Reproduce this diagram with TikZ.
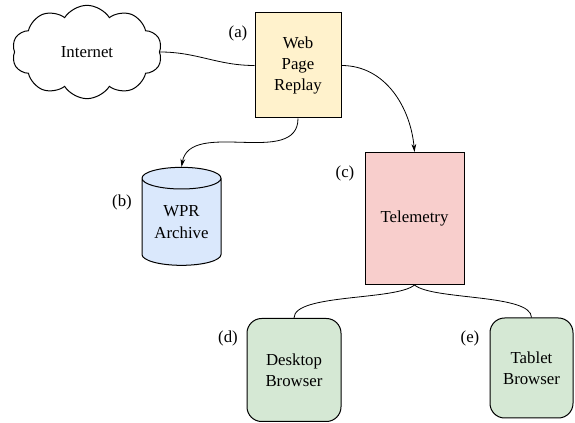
\documentclass[tikz,border=0pt]{standalone}
\usepackage{fontspec}
\setmainfont{Liberation Serif}
\usepackage{tikz}
\usetikzlibrary{arrows.meta, shapes.geometric, shapes.symbols}
\definecolor{wprfill}{HTML}{FFF2CC}
\definecolor{arcfill}{HTML}{DAE8FC}
\definecolor{telfill}{HTML}{F8CECC}
\definecolor{brwfill}{HTML}{D5E8D4}
\tikzset{ box/.style = {draw, line width=0.75pt, align=center, inner sep=0pt},
  browser/.style = {box, fill=brwfill, rounded corners=11pt},
  link/.style = {line width=0.6pt} }

\begin{document}
\begin{tikzpicture}[x=0.75pt, y=-0.75pt, font=\rmfamily\fontsize{12.6}{16}\selectfont, >={Stealth[length=6pt, width=3.6pt]}]
  \useasboundingbox (0,0) rectangle (575,423);
  \path (87,52) node[box, cloud, cloud puffs=10, cloud puff arc=115, aspect=1.6, minimum width=112.5pt, minimum height=70pt] (net) {Internet}
      (298,65.5) node[box, fill=wprfill, minimum width=64.5pt, minimum height=78.75pt] (wpr) {Web\\Page\\Replay}
      (181.5,222) node[box, fill=arcfill, cylinder, shape border rotate=90, aspect=0.4, minimum width=59.25pt, minimum height=73.5pt] (arc) {WPR\\Archive}
      (414.5,218.5) node[box, fill=telfill, minimum width=74.25pt, minimum height=99pt] (tel) {Telemetry}
      (294,370) node[browser, minimum width=70.5pt, minimum height=77.25pt] (desk) {Desktop\\Browser}
      (531.5,368) node[browser, minimum width=62.25pt, minimum height=75pt] (tab) {Tablet\\Browser};

  % letters
  \path (238,33) node (la) {(a)}  (122,202) node (lb) {(b)}  (345,173) node (lc) {(c)}
        (228,338) node (ld) {(d)}  (470,338) node (le) {(e)};

  \draw[link] (net.east) to[out=0, in=180] (wpr.west);
  \draw[link, ->] (wpr.south) to[out=-90, in=80] (arc.north);
  \draw[link, ->] (wpr.east) to[out=0, in=95] (tel.north);
  \draw[link] (tel.south) to[out=-140, in=90, looseness=0.5] (desk.north)
        (tel.south) to[out=-40, in=90, looseness=0.5] (tab.north);
\end{tikzpicture}
\end{document}
